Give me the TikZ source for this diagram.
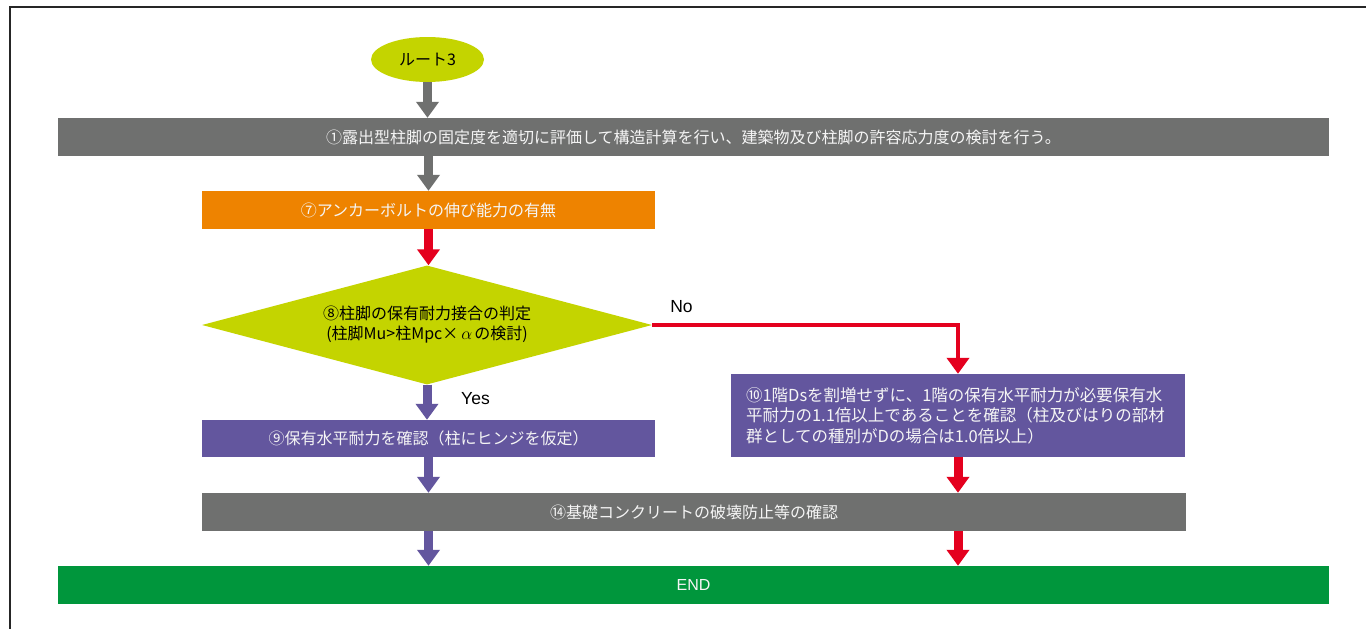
\documentclass[tikz,border=0pt]{standalone}
\usepackage{fontspec}
\setmainfont{Noto Sans CJK JP}
\newfontfamily\latinsans{Liberation Sans}
\usetikzlibrary{arrows.meta,shapes.geometric}
\definecolor{cgray}{RGB}{111,112,111}
\definecolor{corange}{RGB}{238,131,0}
\definecolor{cyg}{RGB}{196,212,0}
\definecolor{cpurple}{RGB}{99,86,158}
\definecolor{cred}{RGB}{228,0,30}
\definecolor{cgreen}{RGB}{0,150,60}
\definecolor{ctext}{RGB}{245,245,245}
\tikzset{
  box/.style={rectangle, inner sep=0pt, text=ctext, font=\fontsize{16}{19}\selectfont},
  flowarrow/.style={line width=9pt, -{Triangle[width=22pt,length=16pt]}},
  thinarrow/.style={line width=4.5pt, -{Triangle[width=22pt,length=16pt]}},
  lbl/.style={font=\latinsans\fontsize{17.5}{20}\selectfont, text=black, inner sep=0pt},
}
\begin{document}
\begin{tikzpicture}[x=1pt,y=-1pt]
\useasboundingbox (0,0) rectangle (1366,629);
\fill[white] (0,0) rectangle (1366,629);
\draw[line width=1.3pt, black!85] (10,629) -- (10,7) -- (1366,7);

\node[ellipse, fill=cyg, minimum width=113pt, minimum height=45pt, inner sep=0pt,
      font=\fontsize{16}{19}\selectfont] (start) at (427.5,59.5) {ルート3};
\node[box, fill=cgray, minimum width=1271pt, minimum height=38pt] (b1) at (693.5,137)
  {①露出型柱脚の固定度を適切に評価して構造計算を行い、建築物及び柱脚の許容応力度の検討を行う。};
\node[box, fill=corange, minimum width=453pt, minimum height=38pt] (b7) at (428.5,210)
  {⑦アンカーボルトの伸び能力の有無};
\node[diamond, fill=cyg, aspect=3.78, inner sep=0pt, minimum width=450pt, minimum height=119pt,
      align=center, font=\fontsize{16}{20}\selectfont] (d8) at (427,325)
  {⑧柱脚の保有耐力接合の判定\\(柱脚Mu>柱Mpc×\hspace{3pt}$\alpha$\hspace{2pt}の検討)};
\node[box, fill=cpurple, minimum width=453pt, minimum height=37pt] (b9) at (428.5,438.5)
  {⑨保有水平耐力を確認（柱にヒンジを仮定）};
\node[box, fill=cpurple, minimum width=454pt, minimum height=83pt, align=left,
      text width=424pt, font=\fontsize{16.5}{20.5}\selectfont] (b10) at (958,415.5)
  {⑩1階Dsを割増せずに、1階の保有水平耐力が必要保有水\\平耐力の1.1倍以上であることを確認（柱及びはりの部材\\群としての種別がDの場合は1.0倍以上）};
\node[box, fill=cgray, minimum width=984pt, minimum height=38pt] (b14) at (694,512)
  {⑭基礎コンクリートの破壊防止等の確認};
\node[box, fill=cgreen, minimum width=1271pt, minimum height=38pt,
      font=\latinsans\fontsize{16}{19}\selectfont] (end) at (693.5,585) {END};

\draw[flowarrow, cgray] (start.south) -- (start.south |- b1.north);
\draw[flowarrow, cgray] (b1.south -| b7.north) -- (b7.north);
\draw[flowarrow, cred] (b7.south) -- (b7.south |- d8.north);
\draw[flowarrow, cpurple] (d8.south) -- (d8.south |- b9.north);
\draw[thinarrow, cred] (d8.east) -| (b10.north);
\draw[flowarrow, cred] (b10.south) -- (b10.south |- b14.north);
\draw[flowarrow, cpurple] (b9.south) -- (b9.south |- b14.north);
\draw[flowarrow, cpurple] (b14.south -| b9.south) -- (end.north -| b9.south);
\draw[flowarrow, cred] (b14.south -| b10.south) -- (end.north -| b10.south);

\node[lbl] (no) at (681.5,307) {No};
\node[lbl] (yes) at (475.5,399) {Yes};
\end{tikzpicture}
\end{document}
